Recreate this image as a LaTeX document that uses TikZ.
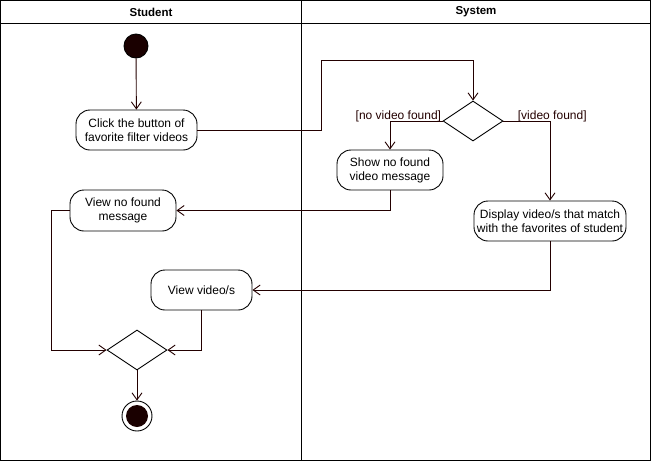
\documentclass[tikz,border=0pt]{standalone}
\usepackage{fontspec}
\setmainfont{Liberation Sans}
\usetikzlibrary{arrows.meta,shapes.geometric}
\definecolor{flow}{RGB}{35,0,0}
\definecolor{dot}{RGB}{26,0,0}
\begin{document}
\begin{tikzpicture}[x=1pt,y=-1pt,line width=0.9pt,
  every node/.style={font=\fontsize{12}{14}\selectfont},
  act/.style={draw=black,rounded corners=14pt,align=center,inner sep=1pt},
  decision/.style={draw=black,diamond,minimum width=60pt,minimum height=40pt,inner sep=0pt,aspect=1.5},
  flowline/.style={draw=flow,-{Straight Barb[length=7pt,width=10pt]}},
  lane/.style={draw=black,line width=1pt},
  head/.style={font=\bfseries\fontsize{11.5}{13}\selectfont},
  guard/.style={text=flow,inner sep=1pt}]
\useasboundingbox (0,0) rectangle (651,461);

% swimlane frame
\draw[lane] (0.5,0.5) rectangle (650,460);
\draw[lane] (0.5,23) -- (650,23);
\draw[lane] (301,0.5) -- (301,460);
\node[head] (hstudent) at (151,12) {Student};
\node[head] (hsystem) at (476,12) {System};

% activity nodes
\node[circle,fill=dot,draw=black,minimum size=24pt,inner sep=0pt] (start) at (136,46) {};
\node[act,minimum width=121pt,minimum height=40pt] (click) at (136.5,130) {Click the button of\\favorite filter videos};
\node[decision] (dec) at (473,121) {};
\node[act,minimum width=106pt,minimum height=40pt] (nofound) at (390,170) {Show no found\\video message};
\node[act,minimum width=152pt,minimum height=40pt] (display) at (550,221) {Display video/s that match\\with the favorites of student};
\node[act,minimum width=106pt,minimum height=41pt] (viewno) at (123,210.5) {View no found\\message};
\node[act,minimum width=101pt,minimum height=40pt] (viewvid) at (201.5,290) {View video/s};
\node[decision] (merge) at (137,350) {};
\node[circle,draw=black,minimum size=30pt,inner sep=0pt] (final) at (137,416) {};
\node[circle,fill=dot,minimum size=22pt,inner sep=0pt] (finaldot) at (final.center) {};

% flows
\draw[flowline] (start) -- (click);
\draw[flowline] (click.east) -| (321,60) -| (dec.north);
\draw[flowline] (dec.west) -| (nofound.north)
  node[guard,pos=0,anchor=south east,yshift=-2pt] {[no video found]};
\draw[flowline] (dec.east) -| (display.north)
  node[guard,pos=0,anchor=south west,xshift=13pt,yshift=-2pt] {[video found]};
\draw[flowline] (nofound.south) |- (viewno.east);
\draw[flowline] (display.south) |- (viewvid.east);
\draw[flowline] (viewno.west) -- (51,210.5) |- (merge.west);
\draw[flowline] (viewvid.south) |- (merge.east);
\draw[flowline] (merge.south) -- (final.north);
\end{tikzpicture}
\end{document}
